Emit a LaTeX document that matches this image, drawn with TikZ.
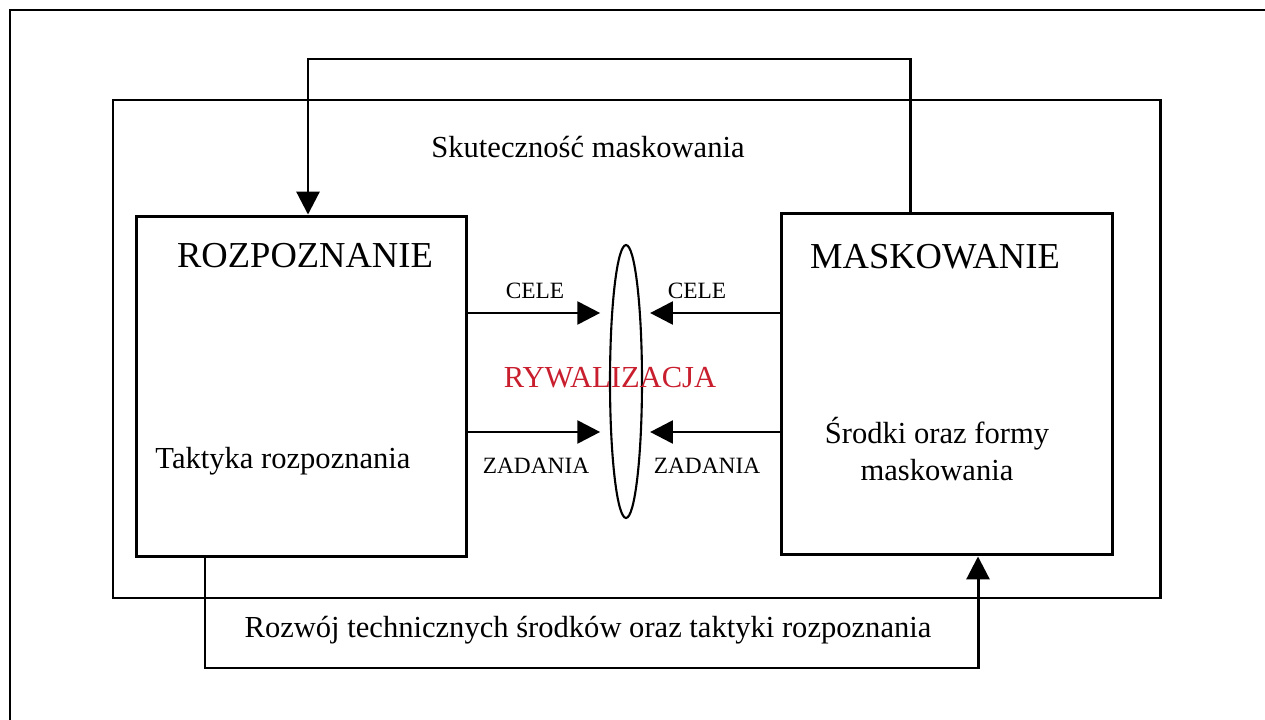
\documentclass[tikz,border=0pt]{standalone}
\usepackage{fontspec}
\setmainfont{Liberation Serif}
\usetikzlibrary{arrows.meta,shapes.geometric}
\definecolor{rywal}{RGB}{200,30,45}
\begin{document}
\begin{tikzpicture}[x=0.02cm,y=-0.02cm,line width=1.7pt,
    box/.style={draw,rectangle,inner sep=0pt},
    arr/.style={-{Triangle[length=13pt,width=13pt]}},
    big/.style={font=\fontsize{20.8}{24}\selectfont,anchor=base},
    txt/.style={font=\fontsize{17.4}{21}\selectfont,anchor=base},
    small/.style={font=\fontsize{13.3}{16}\selectfont,anchor=base}]
    \useasboundingbox (0,0) rectangle (1265,720);
    \draw (1280,10) -- (10,10) -- (10,735); % outer frame, runs off the page
    \draw (113,100) rectangle (1160,598);
    \node[box,minimum width=6.62cm,minimum height=6.82cm] (rozp) at (301.5,386.5) {};
    \node[box,minimum width=6.64cm,minimum height=6.84cm] (mask) at (947,384) {};
    \node[draw,ellipse,inner sep=0pt,line width=1.2pt,minimum width=0.64cm,minimum height=5.46cm] (riv) at (626,381.5) {};
    % texts
    \node[txt] (skut) at (588,157) {Skuteczność maskowania};
    \node[big] (rozpT) at (305,267) {ROZPOZNANIE};
    \node[big] (maskT) at (935,268) {MASKOWANIE};
    \node[txt] (takt) at (283,468) {Taktyka rozpoznania};
    \node[txt] (srod1) at (937,443) {Środki oraz formy};
    \node[txt] (srod2) at (937,480) {maskowania};
    \node[txt,text=rywal] (rywT) at (610,387) {RYWALIZACJA};
    \node[txt] (rozw) at (588,637) {Rozwój technicznych środków oraz taktyki rozpoznania};
    \node[small] (celeL) at (535,298) {CELE};
    \node[small] (celeR) at (697,298) {CELE};
    \node[small] (zadL) at (536,473) {ZADANIA};
    \node[small] (zadR) at (707,473) {ZADANIA};
    % arrows into the ellipse
    \foreach \y in {313,432}{%
      \coordinate (h) at (0,\y);
      \draw[arr,shorten >=5pt] (rozp.east |- h) -- (riv.west |- h);
      \draw[arr,shorten >=4pt] (mask.west |- h) -- (riv.east |- h);
    }
    % feedback loops
    \coordinate (t1) at (910,59);
    \coordinate (t2) at (308,59);
    \draw[arr] (mask.north -| t1) -- (t1) -- (t2) -- (rozp.north -| t2);
    \coordinate (b1) at (205,668);
    \coordinate (b2) at (978,668);
    \draw[arr] (rozp.south -| b1) -- (b1) -- (b2) -- (mask.south -| b2);
\end{tikzpicture}
\end{document}
